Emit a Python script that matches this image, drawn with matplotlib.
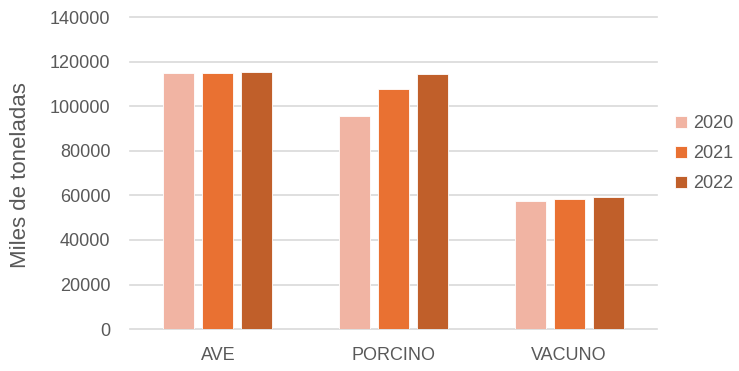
import numpy as np
import matplotlib.pyplot as plt

categories = ["AVE", "PORCINO", "VACUNO"]
years = ["2020", "2021", "2022"]
v2020 = [115000, 95600, 57400]
v2021 = [115100, 107700, 58200]
v2022 = [115200, 114400, 59100]
colors = ["#F1B4A3", "#E97132", "#C05F2A"]
text_color = "#595959"

plt.rcParams["font.family"] = ["Liberation Sans", "DejaVu Sans"]

fig = plt.figure(figsize=(7.39, 3.71), dpi=100)
ax = fig.add_axes([0.176, 0.113, 0.713, 0.841])

# three bars per category, one per year
x = np.arange(len(categories))
width = 0.177
step = 0.222
for i, (vals, yr) in enumerate(zip([v2020, v2021, v2022], years)):
    ax.bar(x + (i - 1) * step, vals, width, color=colors[i], label=yr,
           edgecolor="white", linewidth=0.6, zorder=3)

ax.set_xlim(-0.5, 2.5)
ax.set_ylim(0, 140000)
ax.set_yticks(range(0, 140001, 20000))
ax.set_xticks(x)
ax.set_xticklabels(categories)
ax.grid(axis="y", color="#D9D9D9", linewidth=1.2, zorder=0)
for gl in ax.get_ygridlines():
    gl.set_clip_on(False)
for s in ax.spines.values():
    s.set_visible(False)
ax.tick_params(length=0, colors=text_color, labelsize=13)
ax.tick_params(axis="x", pad=13)
ax.tick_params(axis="y", pad=14)
ax.set_ylabel("Miles de toneladas", color=text_color, fontsize=16)
ax.yaxis.set_label_coords(-0.188, 0.495)

ax.legend(loc="center left", bbox_to_anchor=(0.904, 0.586), bbox_transform=fig.transFigure,
          borderaxespad=0, frameon=False, fontsize=13, labelcolor=text_color,
          handlelength=0.67, handleheight=0.67, handletextpad=0.3, labelspacing=0.72)

fig.savefig("out.png", dpi=100)
